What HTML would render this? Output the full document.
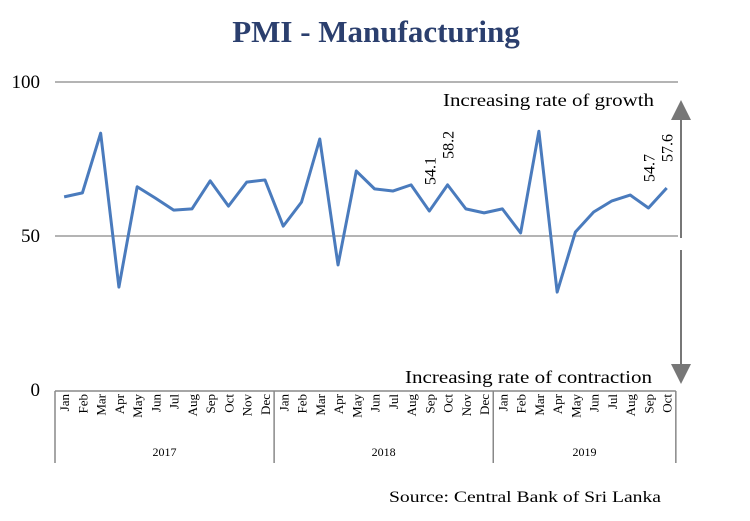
<!DOCTYPE html>
<html><head><meta charset="utf-8"><style>
body{margin:0;background:#fff;width:750px;height:516px;overflow:hidden}
svg text{font-family:"Liberation Serif",serif}
</style></head><body>
<svg width="750" height="516">
<defs><marker id="ah" markerWidth="10" markerHeight="10" refX="5" refY="5" orient="auto"><path d="M0,0 L10,5 L0,10 z" fill="#777"/></marker></defs>
<text x="376" y="42" text-anchor="middle" font-size="31" font-weight="bold" fill="#2b3f6e">PMI - Manufacturing</text>
<g id="grid"></g>
<g id="axis"></g>
<polyline id="line" fill="none" stroke="#4a7bbd" stroke-width="3" stroke-linejoin="round"/>
<g id="notes"></g>
<line x1="681" y1="238" x2="681" y2="110" stroke="#777" stroke-width="2" marker-end="url(#ah)"/>
<line x1="681" y1="250" x2="681" y2="374" stroke="#777" stroke-width="2" marker-end="url(#ah)"/>
<text x="443" y="106" font-size="18" textLength="211" lengthAdjust="spacingAndGlyphs">Increasing rate of growth</text>
<text x="405" y="383" font-size="18" textLength="247" lengthAdjust="spacingAndGlyphs">Increasing rate of contraction</text>
<text x="661" y="502" text-anchor="end" font-size="16" textLength="272" lengthAdjust="spacingAndGlyphs">Source: Central Bank of Sri Lanka</text>
</svg>
<script>
const months=["Jan","Feb","Mar","Apr","May","Jun","Jul","Aug","Sep","Oct","Nov","Dec"];
const years=["2017","2018","2019"];
const values=[62.7,64,83.4,33.4,66,62.3,58.4,58.8,67.9,59.7,67.5,68.2,53.2,61,81.5,40.6,71.1,65.3,64.6,66.6,58.1,66.6,58.8,57.5,58.8,51,84,31.8,51.3,57.8,61.4,63.3,59.1,65.6];
const yTicks=[0,50,100];
const annoIdx=[20,21,32,33];
const annoText=["54.1","58.2","54.7","57.6"];
const NS="http://www.w3.org/2000/svg";
const x0=55,step=18.26,yy=v=>390-v*3.08,xx=i=>x0+step*(i+0.5);
function mk(t,a,p){const e=document.createElementNS(NS,t);for(const k in a)e.setAttribute(k,a[k]);p.appendChild(e);return e;}
const grid=document.getElementById('grid'),axis=document.getElementById('axis'),notes=document.getElementById('notes');
yTicks.forEach(v=>{
 if(v>0){const l=mk('line',{x1:55,x2:678,y1:yy(v),y2:yy(v),stroke:'#888','stroke-width':1.3},grid);
 
 }
 const t=mk('text',{x:40,y:yy(v)+6,'text-anchor':'end','font-size':19},grid);t.textContent=v;
 
 
});
const n=values.length;
const axTop=391;
mk('line',{x1:x0,x2:x0+step*n,y1:axTop,y2:axTop,stroke:'#888','stroke-width':1.5},axis);
for(let i=0;i<=n;i++){if(i%12==0||i==n)mk('line',{x1:x0+step*i,x2:x0+step*i,y1:axTop,y2:463,stroke:'#888','stroke-width':1.5},axis);}
for(let i=0;i<n;i++){const t=mk('text',{'font-size':13,transform:`translate(${xx(i)+5},${axTop+3}) rotate(-90)`,'text-anchor':'end'},axis);t.textContent=months[i%12];
 
 }
years.forEach((y,k)=>{const s=k*12,e=Math.min(n,s+12);const t=mk('text',{x:x0+step*(s+e)/2,y:456,'text-anchor':'middle','font-size':12},axis);t.textContent=y;
 
 });
document.getElementById('line').setAttribute('points',values.map((v,i)=>xx(i)+','+yy(v)).join(' '));
annoIdx.forEach((i,k)=>{const t=mk('text',{'font-size':16,transform:`translate(${xx(i)+6},${yy(values[i])-26}) rotate(-90)`},notes);t.textContent=annoText[k];
 
 });
</script>
</body></html>
